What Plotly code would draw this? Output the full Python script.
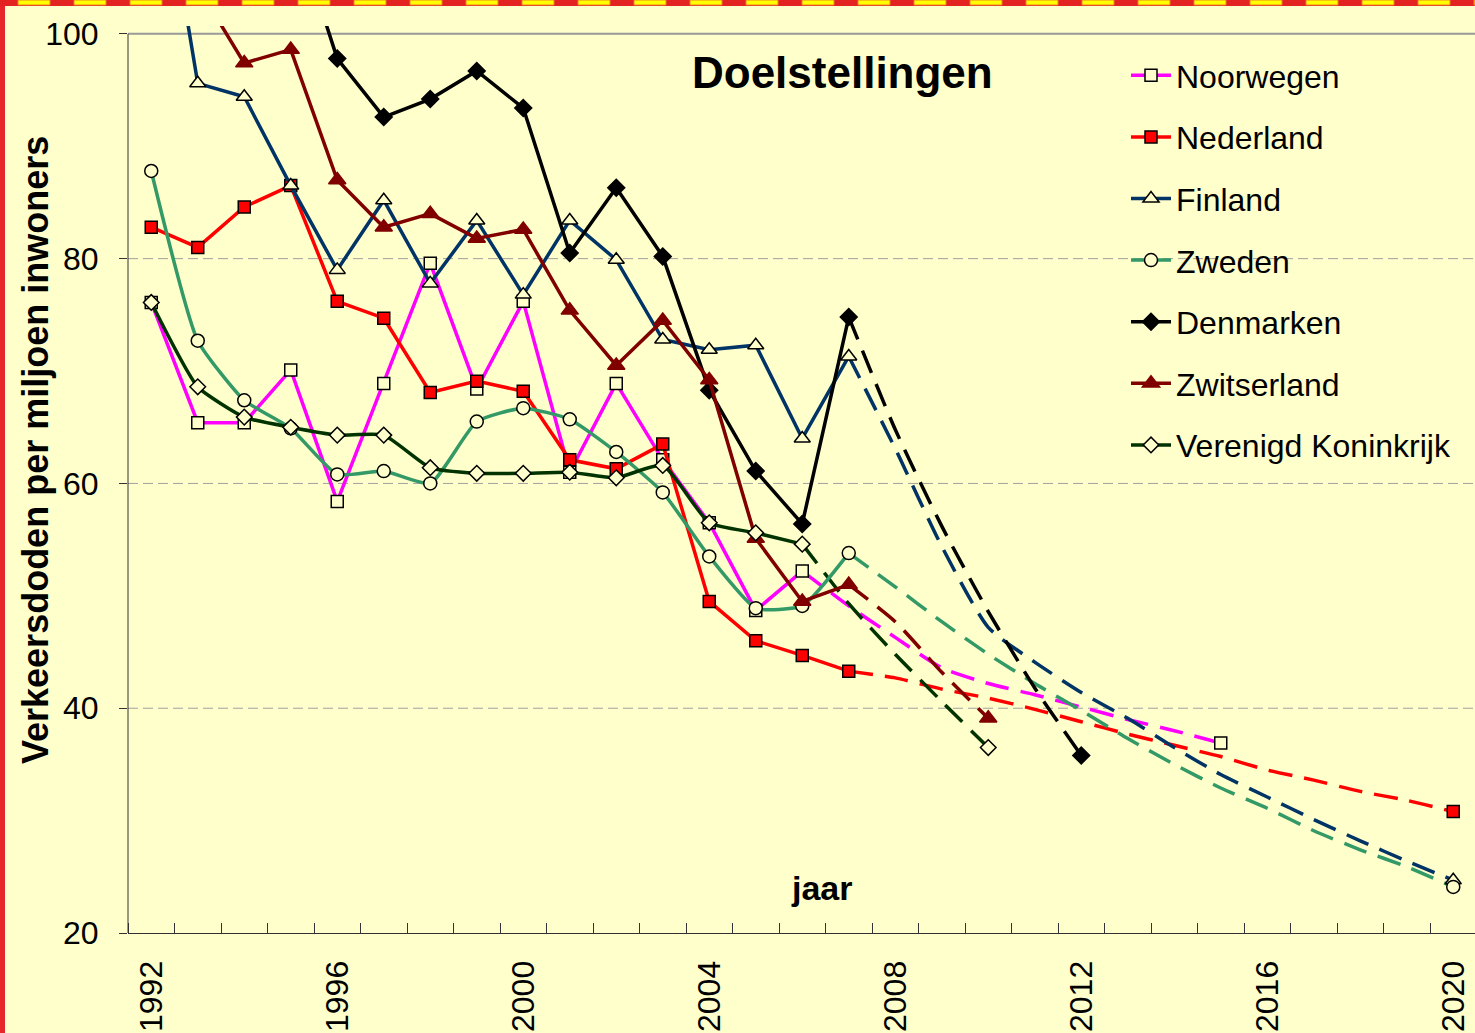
import plotly.graph_objects as go

# ---------------- data ----------------
countries = ["Noorwegen", "Nederland", "Finland", "Zweden", "Denmarken", "Zwitserland", "Verenigd Koninkrijk"]

nor_years = list(range(1992, 2007))
nor_vals = [76.1, 65.4, 65.4, 70.1, 58.4, 68.9, 79.6, 68.4, 76.2, 61.0, 68.9, 62.1, 56.5, 48.7, 52.2]
nor_proj_years = list(range(2006, 2016))
nor_proj_vals = [52.2, 49.1, 46.3, 43.6, 42.2, 41.2, 40.1, 39.0, 38.0, 36.9]

ned_years = list(range(1992, 2008))
ned_vals = [82.8, 81.0, 84.6, 86.5, 76.2, 74.7, 68.1, 69.1, 68.2, 62.1, 61.3, 63.5, 49.5, 46.0, 44.7, 43.3]
ned_proj_years = list(range(2007, 2021))
ned_proj_vals = [43.3, 42.7, 41.7, 40.9, 39.9, 38.8, 37.7, 36.7, 35.7, 34.5, 33.6, 32.6, 31.8, 30.8]

fin_years = list(range(1992, 2008))
fin_vals = [120.5, 95.6, 94.4, 86.5, 79.0, 85.2, 77.8, 83.4, 76.8, 83.4, 79.9, 72.8, 71.9, 72.3, 64.0, 71.3]
fin_proj_years = list(range(2007, 2021))
fin_proj_vals = [71.3, 63.1, 54.4, 47.2, 44.1, 41.4, 39.1, 36.5, 34.1, 32.1, 30.1, 28.2, 26.4, 24.7]

zwe_years = list(range(1992, 2008))
zwe_vals = [87.8, 72.7, 67.4, 64.9, 60.8, 61.1, 60.0, 65.5, 66.7, 65.7, 62.8, 59.2, 53.5, 48.9, 49.1, 53.8]
zwe_proj_years = list(range(2007, 2021))
zwe_proj_vals = [53.8, 50.8, 47.7, 44.8, 42.2, 39.8, 37.3, 35.0, 32.9, 31.1, 29.1, 27.4, 25.9, 24.1]

den_years = list(range(1995, 2008))
den_vals = [110.6, 97.8, 92.6, 94.2, 96.7, 93.4, 80.5, 86.3, 80.2, 68.3, 61.1, 56.4, 74.8]
den_proj_years = list(range(2007, 2013))
den_proj_vals = [74.8, 64.8, 56.2, 48.6, 41.8, 35.8]

zwi_years = list(range(1993, 2008))
zwi_vals = [104.2, 97.4, 98.6, 87.0, 82.8, 84.0, 81.8, 82.6, 75.4, 70.5, 74.5, 69.2, 55.1, 49.5, 51.0]
zwi_proj_years = list(range(2007, 2011))
zwi_proj_vals = [51.0, 47.7, 43.2, 39.1]

vk_years = list(range(1992, 2007))
vk_vals = [76.1, 68.6, 65.9, 65.0, 64.3, 64.3, 61.4, 60.9, 60.9, 61.0, 60.5, 61.6, 56.5, 55.6, 54.6]
vk_proj_years = list(range(2006, 2011))
vk_proj_vals = [54.6, 49.3, 44.8, 40.6, 36.5]

x_tick_vals = [1992, 1996, 2000, 2004, 2008, 2012, 2016, 2020]
x_tick_text = ["1992", "1996", "2000", "2004", "2008", "2012", "2016", "2020"]
y_tick_vals = [20, 40, 60, 80, 100]
y_grid_vals = [40, 60, 80]

# ---------------- styling ----------------
BG = "#FFFFCC"
FONT = "Liberation Sans, Arial, sans-serif"
LW = 3.5

series = [
    # name, years, vals, proj years, proj vals, line color, symbol, fill, outline, size, shape
    ("Noorwegen", nor_years, nor_vals, nor_proj_years, nor_proj_vals, "#FF00FF", "square", BG, "#000000", 12, "linear"),
    ("Nederland", ned_years, ned_vals, ned_proj_years, ned_proj_vals, "#FF0000", "square", "#FF0000", "#000000", 12, "linear"),
    ("Finland", fin_years, fin_vals, fin_proj_years, fin_proj_vals, "#003366", "triangle-up", BG, "#000000", 14, "linear"),
    ("Zweden", zwe_years, zwe_vals, zwe_proj_years, zwe_proj_vals, "#339966", "circle", BG, "#000000", 13, "spline"),
    ("Denmarken", den_years, den_vals, den_proj_years, den_proj_vals, "#000000", "diamond", "#000000", "#000000", 13, "linear"),
    ("Zwitserland", zwi_years, zwi_vals, zwi_proj_years, zwi_proj_vals, "#800000", "triangle-up", "#800000", "#800000", 15, "linear"),
    ("Verenigd Koninkrijk", vk_years, vk_vals, vk_proj_years, vk_proj_vals, "#003300", "diamond", BG, "#000000", 12, "spline"),
]

fig = go.Figure()
for name, yrs, vals, pyrs, pvals, col, sym, fill, outl, size, shape in series:
    fig.add_trace(go.Scatter(
        x=pyrs, y=pvals, mode="lines", legendgroup=name, showlegend=False,
        line=dict(color=col, width=LW, dash="24px,12px", shape="spline", smoothing=0.6),
        hoverinfo="skip"))
for name, yrs, vals, pyrs, pvals, col, sym, fill, outl, size, shape in series:
    fig.add_trace(go.Scatter(
        x=yrs, y=vals, mode="lines+markers", name=name, legendgroup=name,
        line=dict(color=col, width=LW, shape=shape, smoothing=0.5),
        marker=dict(symbol=sym, size=size, color=fill, line=dict(color=outl, width=1.5))))
    fig.add_trace(go.Scatter(
        x=[pyrs[-1]], y=[pvals[-1]], mode="markers", legendgroup=name, showlegend=False,
        marker=dict(symbol=sym, size=size, color=fill, line=dict(color=outl, width=1.5))))

# ---------------- layout ----------------
L, T, W, H = 128, 26, 1347, 907   # plot area in pixels


def px2x(px):
    return (px - L) / W


def py2y(py):
    return (T + H - py) / H


shapes = []
for gv in y_grid_vals:
    shapes.append(dict(type="line", xref="paper", yref="y", x0=0, x1=1, y0=gv, y1=gv,
                       line=dict(color="#A0A0A0", width=1, dash="10px,5px"), layer="below"))
shapes.append(dict(type="line", xref="paper", yref="y", x0=0, x1=1, y0=100, y1=100,
                   line=dict(color="#999999", width=2), layer="below"))
shapes.append(dict(type="line", xref="paper", yref="y", x0=0, x1=0, y0=20, y1=100,
                   line=dict(color="#333333", width=1), layer="above"))
# decorative border: red left bar, red/yellow striped top band
shapes.append(dict(type="rect", xref="paper", yref="paper", x0=px2x(0), x1=px2x(5),
                   y0=py2y(1033), y1=py2y(0), fillcolor="#E8262A", line=dict(width=0), layer="above"))
shapes.append(dict(type="rect", xref="paper", yref="paper", x0=px2x(0), x1=px2x(1475),
                   y0=py2y(6), y1=py2y(0), fillcolor="#E32222", line=dict(width=0), layer="above"))
xs = 18
while xs < 1475:
    shapes.append(dict(type="rect", xref="paper", yref="paper", x0=px2x(xs), x1=px2x(min(xs + 32, 1475)),
                       y0=py2y(5), y1=py2y(0), fillcolor="#FFFF00",
                       line=dict(width=1, color="#F08020"), layer="above"))
    xs += 56

annotations = [
    dict(text="<b>Doelstellingen</b>", xref="paper", yref="paper", x=px2x(842), y=py2y(72),
         showarrow=False, font=dict(size=44, color="#000000", family=FONT), xanchor="center", yanchor="middle"),
    dict(text="<b>jaar</b>", xref="paper", yref="paper", x=px2x(822), y=py2y(888),
         showarrow=False, font=dict(size=34, color="#000000", family=FONT), xanchor="center", yanchor="middle"),
    dict(text="<b>Verkeersdoden per miljoen inwoners</b>", xref="paper", yref="paper",
         x=px2x(35), y=py2y(450), textangle=-90,
         showarrow=False, font=dict(size=36, color="#000000", family=FONT), xanchor="center", yanchor="middle"),
]

fig.update_layout(
    width=1475, height=1033,
    margin=dict(l=L, r=0, t=T, b=1033 - T - H, pad=0),
    paper_bgcolor=BG, plot_bgcolor=BG,
    font=dict(family=FONT, color="#000000"),
    showlegend=True,
    legend=dict(x=px2x(1126), y=py2y(48), xanchor="left", yanchor="top",
                bgcolor="rgba(0,0,0,0)", font=dict(size=32, family=FONT),
                tracegroupgap=17, itemwidth=40, traceorder="grouped"),
    shapes=shapes,
    annotations=annotations,
    xaxis=dict(range=[1991.5, 1991.5 + W / 46.5], tickmode="array", tickvals=x_tick_vals, ticktext=x_tick_text,
               tickangle=-90, ticks="", showgrid=False, zeroline=False,
               showline=True, linecolor="#333333", linewidth=1,
               tickfont=dict(size=32, family=FONT), ticklabelstandoff=14,
               minor=dict(tick0=1991.5, dtick=1, ticks="inside", ticklen=10, tickcolor="#333333", showgrid=False)),
    yaxis=dict(range=[20, 100.7], tickmode="array", tickvals=y_tick_vals, ticks="outside", ticklen=8,
               tickcolor="#333333", showgrid=False, zeroline=False, showline=False,
               tickfont=dict(size=32, family=FONT), ticklabelstandoff=14),
)

fig.write_html("out.html", config={"displayModeBar": False},
               post_script="document.body.style.margin='0';document.body.style.overflow='hidden';")
